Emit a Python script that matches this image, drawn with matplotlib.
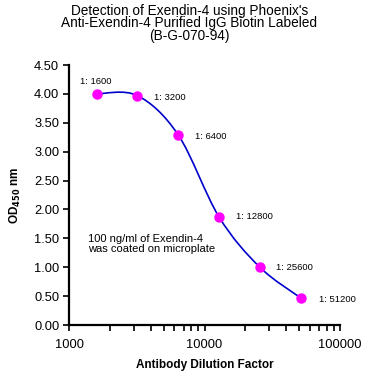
import numpy as np
import matplotlib.pyplot as plt
from matplotlib.path import Path
from matplotlib.patches import PathPatch
from matplotlib.ticker import FixedLocator, LogLocator, NullFormatter

plt.rcParams['font.family'] = ['Liberation Sans', 'DejaVu Sans']

# data
dilution = [1600, 3200, 6400, 12800, 25600, 51200]
od = [4.00, 3.97, 3.29, 1.87, 1.00, 0.47]
point_labels = ['1: 1600', '1: 3200', '1: 6400', '1: 12800', '1: 25600', '1: 51200']
y_ticks = [0.0, 0.5, 1.0, 1.5, 2.0, 2.5, 3.0, 3.5, 4.0, 4.5]
x_ticks = [1000, 10000, 100000]

fig = plt.figure(figsize=(3.75, 3.75), dpi=100)
ax = fig.add_axes([69/375, 1 - 325/375, (340-69)/375, (325-65)/375])
ax.set_xscale('log')
ax.set_xlim(1000, 100000)
ax.set_ylim(0, 4.5)

# smoothed line (bezier through the points, like a spreadsheet "smoothed line")
lx = np.log10(dilution)
yy = np.array(od)
n = len(lx)
verts = [(dilution[0], od[0])]
codes = [Path.MOVETO]
for i in range(n - 1):
    i0 = max(i - 1, 0)
    i3 = min(i + 2, n - 1)
    c1x = lx[i] + (lx[i+1] - lx[i0]) / 6
    c1y = yy[i] + (yy[i+1] - yy[i0]) / 6
    c2x = lx[i+1] - (lx[i3] - lx[i]) / 6
    c2y = yy[i+1] - (yy[i3] - yy[i]) / 6
    verts += [(10**c1x, c1y), (10**c2x, c2y), (dilution[i+1], od[i+1])]
    codes += [Path.CURVE4] * 3
ax.add_patch(PathPatch(Path(verts, codes), facecolor='none', edgecolor='#0000CC', lw=1.2, zorder=2))

ax.plot(dilution, od, 'o', color='#FF00FF', ms=6.5, mec='#FF00FF', zorder=3)

offsets = [(-12, 9), (12, -1), (12, -1), (12, 0), (12, 0), (13, -1)]
for x, y, t, o in zip(dilution, od, point_labels, offsets):
    ax.annotate(t, (x, y), xytext=o, textcoords='offset points', fontsize=6.8,
                va='center', ha='left')

ax.text(1380, 1.40, '100 ng/ml of Exendin-4\nwas coated on microplate', fontsize=8,
        va='center', ha='left', linespacing=1.0)

for s in ['top', 'right']:
    ax.spines[s].set_visible(False)
for s in ['left', 'bottom']:
    ax.spines[s].set_linewidth(1.6)

ax.yaxis.set_major_locator(FixedLocator(y_ticks))
ax.set_yticklabels(['%.2f' % v for v in y_ticks])
ax.xaxis.set_major_locator(FixedLocator(x_ticks))
ax.set_xticklabels([str(v) for v in x_ticks])
ax.xaxis.set_minor_locator(LogLocator(base=10, subs=np.arange(2, 10)))
ax.xaxis.set_minor_formatter(NullFormatter())
ax.tick_params(axis='both', which='major', direction='out', length=4, width=1.2,
               labelsize=9.3, pad=3)
ax.tick_params(axis='x', which='minor', direction='out', length=4, width=1.2)
ax.tick_params(axis='x', which='major', pad=6)

ax.set_xlabel('Antibody Dilution Factor', fontsize=8.5, fontweight='bold', labelpad=6)
ax.set_ylabel('OD$_{\\mathbf{450}}$ nm', fontsize=8.5, fontweight='bold', labelpad=8)

fig.text(0.505, 1 - 11/375, "Detection of Exendin-4 using Phoenix's", ha='center', va='center', fontsize=9.8)
fig.text(0.505, 1 - 23.5/375, 'Anti-Exendin-4 Purified IgG Biotin Labeled', ha='center', va='center', fontsize=9.8)
fig.text(0.505, 1 - 36/375, '(B-G-070-94)', ha='center', va='center', fontsize=9.8)

fig.savefig('out.png', dpi=100)
